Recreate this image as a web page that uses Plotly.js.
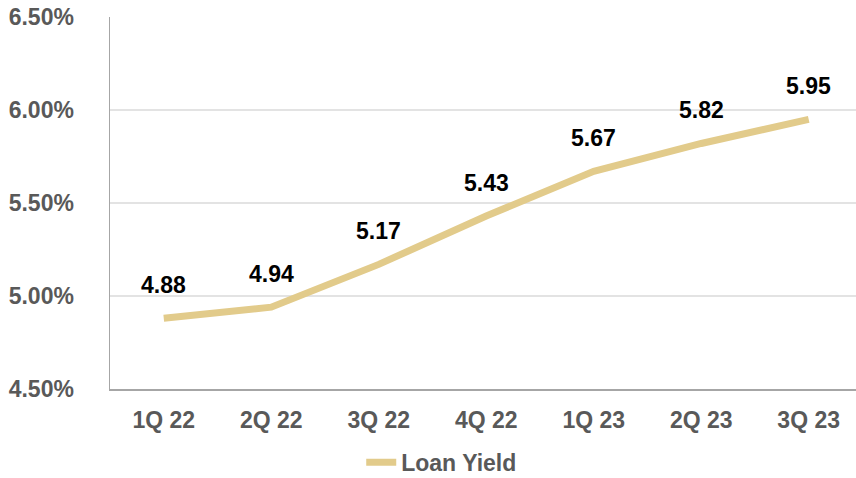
<!DOCTYPE html>
<html>
<head>
<meta charset="utf-8">
<script src="https://cdn.plot.ly/plotly-3.0.1.min.js"></script>
<style>
  html, body { margin: 0; padding: 0; background: #fff; }
  #chart { width: 856px; height: 478px; }
</style>
</head>
<body>
<div id="chart"></div>
<script>
// quarters and loan yield (%)
const quarters = ['1Q 22', '2Q 22', '3Q 22', '4Q 22', '1Q 23', '2Q 23', '3Q 23'];
const loanYield = [4.88, 4.94, 5.17, 5.43, 5.67, 5.82, 5.95];
const yTicks = [4.5, 5.0, 5.5, 6.0, 6.5];
const yTickText = yTicks.map(v => v.toFixed(2) + '%');

const gold = '#E2CB8B';
const gray = '#595959';
const fam = 'Liberation Sans, Arial, sans-serif';

const trace = {
  x: quarters,
  y: loanYield,
  type: 'scatter',
  mode: 'lines',
  name: 'Loan Yield',
  line: { color: gold, width: 7 },
  hoverinfo: 'skip'
};

// value labels over each point
const notes = quarters.map((q, i) => ({
  x: q,
  y: loanYield[i],
  text: loanYield[i].toFixed(2),
  showarrow: false,
  yshift: 33,
  font: { family: fam, size: 23, color: '#000', weight: 'bold' }
}));

const layout = {
  width: 856,
  height: 478,
  margin: { l: 110, r: 0, t: 17, b: 89 },
  paper_bgcolor: '#fff',
  plot_bgcolor: '#fff',
  showlegend: true,
  legend: {
    orientation: 'h',
    xref: 'container', yref: 'container',
    x: 0.422, xanchor: 'left',
    y: 0.033, yanchor: 'middle',
    font: { family: fam, size: 23, color: gray, weight: 'bold' }
  },
  xaxis: {
    type: 'category',
    range: [-0.5, 6.44],
    showgrid: false,
    showline: true,
    linecolor: '#a6a6a6',
    linewidth: 1.5,
    ticks: '',
    ticklabelstandoff: 10,
    tickfont: { family: fam, size: 23, color: gray, weight: 'bold' },
    fixedrange: true
  },
  yaxis: {
    range: [4.5, 6.5],
    tickvals: yTicks,
    ticktext: yTickText,
    showgrid: true,
    gridcolor: '#e3e3e3',
    gridwidth: 1.5,
    zeroline: false,
    showline: true,
    linecolor: '#a6a6a6',
    linewidth: 1.5,
    ticks: '',
    ticklabelstandoff: 30,
    tickfont: { family: fam, size: 23, color: gray, weight: 'bold' },
    fixedrange: true
  },
  annotations: notes
};

Plotly.newPlot('chart', [trace], layout, { displayModeBar: false, staticPlot: true });
</script>
</body>
</html>
